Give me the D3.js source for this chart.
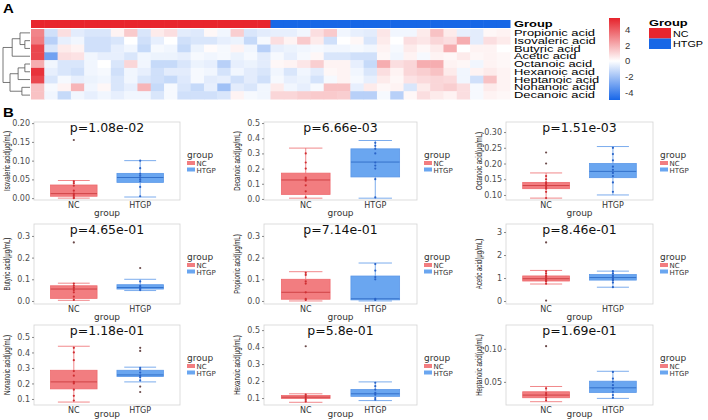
<!DOCTYPE html>
<html>
<head>
<meta charset="utf-8">
<script src="https://cdn.jsdelivr.net/npm/d3@7"></script>
<style>
	body { margin:0; background:#fff; }
	text { font-family:"Liberation Sans", Arial, sans-serif; }
</style>
</head>
<body>
<svg id="chart" width="708" height="420"></svg>
<script>
//--------------------------------------------------------------------------
//  DATA
//--------------------------------------------------------------------------

// heatmap rows, in clustered order
var acids = ["Propionic acid", "Isovaleric acid", "Butyric acid", "Acetic acid",
	"Octanoic acid", "Hexanoic acid", "Heptanoic acid", "Nonanoic acid", "Decanoic acid"];
var groups = ["NC", "HTGP"];
var groupSizes = [18, 18];

// z-scores, one row per acid, 18 NC samples then 18 HTGP samples
var zScores = [
	[ 3.0,-1.0, 0.8,-0.6,-0.8,-0.8, 0.3, 1.3,-0.8, 0.5, 0.8,-0.6,-0.7, 0.2,-0.3, 1.2,-0.8,-0.6,  -0.5,-0.5,-0.3, 0.8, 1.3,-0.3,-0.5,-0.6, 0.6,-0.3,-0.3, 0.5, 1.5, 0.5,-0.5,-0.6, 0.2, 0.3],
	[ 3.2,-1.5,-0.5,-0.3,-1.0,-1.0,-0.8, 0.0,-1.0,-0.5, 0.0,-1.0,-0.8,-0.8,-0.5,-0.4,-1.2,-0.2,   0.8, 0.3, 1.3, 0.5,-1.0, 0.0, 0.2,-0.8, 0.5, 0.0, 0.8, 0.6, 1.0, 0.8, 2.0,-0.6, 0.8, 0.5],
	[ 4.5,-0.8, 0.5, 0.3,-1.0,-1.0,-0.5,-0.3,-1.2,-0.2,-0.3,-1.2,-0.4, 0.1,-0.2, 0.3,-0.3,-1.5,  -0.5,-0.4,-0.3,-0.2,-0.3,-0.3,-0.2,-0.3, 0.3,-0.2, 0.5, 0.2, 0.5, 2.0, 0.0, 0.3, 0.3, 0.0],
	[ 4.5,-3.0, 0.8, 0.7,-0.3,-0.5,-0.5,-0.8,-0.3,-0.4,-0.4,-0.5,-0.2,-0.3,-0.2,-0.4,-0.2,-0.6,  -0.2,-0.5,-0.2, 0.2,-0.8,-0.8,-1.0,-1.0, 0.2,-0.3, 0.3,-0.2, 0.3, 0.2, 0.5, 0.2, 0.3, 0.2],
	[ 2.0,-0.3,-0.8,-0.8,-0.3, 0.0,-0.8, 1.0,-0.3,-1.2,-1.2,-0.8,-0.4,-0.5,-1.5,-0.5,-0.4,-0.6,   0.2, 0.3, 0.6, 1.2, 0.3, 0.3,-0.5,-1.2, 2.0, 0.8, 1.0, 2.0, 2.0, 0.3, 0.2,-0.3, 0.3, 0.2],
	[ 5.0,-0.5,-0.8,-1.0,-0.3,-0.2,-1.0,-0.3,-0.5,-1.0,-0.6,-0.6,-0.2,-0.3,-0.9,-0.3,-0.6,-0.8,  -0.3,-0.8,-0.3,-0.6, 0.2, 0.3,-0.3,-0.8, 0.8, 0.3, 1.0, 1.2, 1.5, 0.5,-0.3, 0.3, 0.5, 0.3],
	[ 4.5,-0.8,-0.2,-0.5,-0.4,-0.3,-0.8,-0.3,-0.8,-1.0,-1.2,-0.7,-0.2,-0.6,-0.5,-1.0,-0.6,-1.0,  -0.2,-0.5,-0.4,-0.9,-0.2, 0.3,-0.2,-0.5, 0.5, 0.2, 0.7, 0.9, 1.0, 0.9,-0.3,-1.0, 1.5, 0.3],
	[ 1.5,-0.2, 0.3, 1.8,-0.3, 0.2,-0.8,-0.5, 1.8,-1.2,-0.2,-0.8,-1.2,-0.5,-2.0,-0.6,-0.8,-0.3,   0.5,-0.3,-0.5,-0.2, 1.5, 1.5,-0.5, 0.5, 0.2, 0.3,-0.8, 0.5, 1.0, 1.2, 0.8,-0.2, 0.5, 0.3],
	[ 1.5,-0.3,-1.2,-0.3,-0.5,-0.3,-0.5,-0.3,-0.3,-0.8,-0.2,-1.0,-1.0,-1.0,-0.8, 0.3,-0.2,-0.3,   1.0, 1.0, 1.2, 1.3, 1.3, 1.2,-1.5,-1.5,-0.2,-1.5, 0.2, 0.8, 0.5, 0.3, 0.8,-0.2, 0.3, 0.2]
];

// row dendrogram, h = merge height (0 leaves .. 1 root)
var dendro = { h:1, children:[
	{ h:0.66, children:[
		{ h:0.37, children:[ { name:"Propionic acid" },
			{ h:0.19, children:[ { name:"Isovaleric acid" }, { name:"Butyric acid" } ] } ] },
		{ name:"Acetic acid" } ] },
	{ h:0.74, children:[
		{ h:0.44, children:[
			{ h:0.19, children:[ { name:"Octanoic acid" }, { name:"Hexanoic acid" } ] },
			{ name:"Heptanoic acid" } ] },
		{ h:0.3, children:[ { name:"Nonanoic acid" }, { name:"Decanoic acid" } ] } ] }
]};

var legendTicks = [4, 2, 0, -2, -4];
var legendRange = [-4.9, 5.4];

// boxplot panels (B)
var panelAcids = ["Isovaleric acid", "Decanoic acid", "Octanoic acid",
	"Butyric acid", "Propionic acid", "Acetic acid",
	"Nonanoic acid", "Hexanoic acid", "Heptanoic acid"];
var pValues = ["1.08e-02", "6.66e-03", "1.51e-03", "4.65e-01", "7.14e-01", "8.46e-01",
	"1.18e-01", "5.8e-01", "1.69e-01"];
var yTickLabels = [
	["0.00", "0.05", "0.10", "0.15", "0.20"],
	["0.0", "0.1", "0.2", "0.3", "0.4", "0.5"],
	["0.10", "0.15", "0.20", "0.25", "0.30"],
	["0.0", "0.1", "0.2", "0.3"],
	["0.0", "0.1", "0.2", "0.3"],
	["0", "1", "2", "3"],
	["0.1", "0.2", "0.3", "0.4", "0.5"],
	["0.1", "0.2", "0.3", "0.4", "0.5"],
	["0.05", "0.10"]
];
var yLimits = [[-0.005, 0.203], [-0.007, 0.507], [0.084, 0.332],
	[-0.014, 0.355], [-0.014, 0.355], [-0.13, 3.35],
	[0.061, 0.577], [0.059, 0.53], [0.015, 0.136]];

// [lower whisker, q1, median, q3, upper whisker]
var ncStats = [
	[0.0, 0.005, 0.012, 0.035, 0.047],
	[0.005, 0.03, 0.125, 0.17, 0.335],
	[0.09, 0.12, 0.13, 0.14, 0.17],
	[0.003, 0.012, 0.055, 0.07, 0.082],
	[0.0, 0.008, 0.04, 0.1, 0.135],
	[0.74, 0.87, 0.97, 1.09, 1.33],
	[0.08, 0.165, 0.21, 0.285, 0.44],
	[0.075, 0.097, 0.105, 0.115, 0.125],
	[0.02, 0.026, 0.03, 0.035, 0.043]
];
var htgpStats = [
	[0.003, 0.042, 0.055, 0.066, 0.1],
	[0.005, 0.145, 0.243, 0.33, 0.385],
	[0.1, 0.155, 0.175, 0.2, 0.254],
	[0.048, 0.055, 0.062, 0.075, 0.1],
	[0.0, 0.005, 0.01, 0.115, 0.175],
	[0.6, 0.91, 1.02, 1.15, 1.3],
	[0.21, 0.245, 0.255, 0.285, 0.305],
	[0.085, 0.11, 0.125, 0.15, 0.195],
	[0.025, 0.034, 0.041, 0.051, 0.066]
];
var ncOutliers = [[0.155], [], [0.2, 0.235], [0.27], [0.295], [2.55, 0.02], [], [0.405], [0.104]];
var htgpOutliers = [[], [], [], [0.152], [], [], [0.43, 0.41, 0.18, 0.145], [], []];
var ncPoints = [
	[0.0, 0.003, 0.008, 0.012, 0.02, 0.033, 0.04, 0.045],
	[0.01, 0.05, 0.09, 0.12, 0.13, 0.14, 0.2, 0.24, 0.3],
	[0.09, 0.11, 0.12, 0.125, 0.13, 0.135, 0.14, 0.15, 0.16],
	[0.005, 0.02, 0.04, 0.05, 0.06, 0.07, 0.08],
	[0.005, 0.01, 0.04, 0.08, 0.09, 0.12, 0.13],
	[0.75, 0.85, 0.9, 0.95, 1.0, 1.05, 1.1, 1.2, 1.3],
	[0.09, 0.12, 0.16, 0.2, 0.21, 0.25, 0.28, 0.35, 0.4, 0.43],
	[0.08, 0.09, 0.1, 0.11, 0.12],
	[0.022, 0.026, 0.03, 0.033, 0.04]
];
var htgpPoints = [
	[0.005, 0.03, 0.045, 0.05, 0.055, 0.06, 0.065, 0.08, 0.1],
	[0.01, 0.13, 0.2, 0.22, 0.24, 0.3, 0.33, 0.35, 0.37],
	[0.11, 0.14, 0.16, 0.17, 0.18, 0.19, 0.21, 0.23, 0.25],
	[0.05, 0.055, 0.06, 0.065, 0.07, 0.09],
	[0.005, 0.01, 0.1, 0.11, 0.14, 0.17],
	[0.6, 0.8, 0.9, 0.95, 1.0, 1.05, 1.1, 1.2, 1.3],
	[0.22, 0.24, 0.25, 0.27, 0.29, 0.3],
	[0.09, 0.1, 0.12, 0.13, 0.15, 0.17, 0.19],
	[0.026, 0.03, 0.035, 0.04, 0.045, 0.05, 0.055, 0.065]
];

//--------------------------------------------------------------------------
//  STYLE
//--------------------------------------------------------------------------

var groupColors = { NC:"#e8252d", HTGP:"#1767e6" }
	, boxFill = { NC:"#f27d80", HTGP:"#6aa6f0" }
	, boxLine = { NC:"#ee6a6d", HTGP:"#5a97e8" }
	, medLine = { NC:"#cc3c40", HTGP:"#2f6cc6" }
	, dotColor = { NC:"#cf2f33", HTGP:"#2a64c8" }
	, labelScale = 1.5;

var svg = d3.select("#chart");

//--------------------------------------------------------------------------
//  A : HEATMAP
//--------------------------------------------------------------------------

function drawHeatmap() {
	var nSamples = d3.sum(groupSizes)
	, sampleGroup = []
	, cells = []
	, x, y, color, g, root, hx;

	groups.forEach(function(gr, gi) {
		for (var k = 0; k < groupSizes[gi]; k++) { sampleGroup.push(gr); }
	});
	zScores.forEach(function(row, r) {
		row.forEach(function(v, c) { cells.push({ acid:acids[r], col:c, v:v }); });
	});

	x = d3.scaleBand().domain(d3.range(nSamples)).range([31, 510]);
	y = d3.scaleBand().domain(acids).range([29, 99]);
	color = d3.scaleLinear().domain([-4.9, 0, 5.4]).range(["#1766e8", "#ffffff", "#e6222b"]);

	svg.append("text")
		.attr("transform", "translate(3,13) scale(1.25,1)")
		.style("font-weight", "bold").style("font-size", "12px").text("A");

	// group annotation bar
	svg.append("g").selectAll("rect")
		.data(sampleGroup)
		.enter().append("rect")
		.attr("x", function(d, i) { return x(i); })
		.attr("y", 20)
		.attr("width", x.bandwidth() + 0.5)
		.attr("height", 8)
		.attr("fill", function(d) { return groupColors[d]; });

	svg.append("g").selectAll("rect")
		.data(cells)
		.enter().append("rect")
		.attr("x", function(d) { return x(d.col); })
		.attr("y", function(d) { return y(d.acid); })
		.attr("width", x.bandwidth() + 0.5)
		.attr("height", y.bandwidth() + 0.5)
		.attr("fill", function(d) { return color(d.v); });

	// row labels
	g = svg.append("g").attr("transform", "translate(514,0) scale(" + labelScale + ",1)");
	g.append("text").attr("x", 0).attr("y", 27)
		.style("font-size", "8.6px").style("font-weight", "bold").text("Group");
	g.selectAll("text.row")
		.data(acids)
		.enter().append("text")
		.attr("class", "row")
		.attr("x", 0)
		.attr("y", function(d) { return y(d) + y.bandwidth() / 2 + 3.1; })
		.style("font-size", "8.6px")
		.text(function(d) { return d; });

	// dendrogram
	root = d3.hierarchy(dendro);
	hx = d3.scaleLinear().domain([0, 1]).range([30, 3]);
	root.eachAfter(function(n) {
		if (!n.children) {
			n.py = y(n.data.name) + y.bandwidth() / 2;
			n.px = hx(0);
		} else {
			n.py = (n.children[0].py + n.children[n.children.length - 1].py) / 2;
			n.px = hx(n.data.h);
		}
	});
	svg.append("g").selectAll("path")
		.data(root.descendants().filter(function(n) { return n.children; }))
		.enter().append("path")
		.attr("fill", "none")
		.attr("stroke", "#555")
		.attr("stroke-width", 0.8)
		.attr("d", function(n) {
			var a = n.children[0], b = n.children[n.children.length - 1];
			return "M" + a.px + "," + a.py + "H" + n.px + "V" + b.py + "H" + b.px;
		});

	// colour legend
	var ly = d3.scaleLinear().domain(legendRange).range([100, 18])
	, defs = svg.append("defs")
	, grad = defs.append("linearGradient").attr("id", "zgrad")
		.attr("x1", 0).attr("y1", 1).attr("x2", 0).attr("y2", 0);
	[-4.9, 0, 5.4].forEach(function(v) {
		grad.append("stop")
			.attr("offset", (v - legendRange[0]) / (legendRange[1] - legendRange[0]))
			.attr("stop-color", color(v));
	});
	svg.append("rect").attr("x", 609).attr("y", 18).attr("width", 11).attr("height", 82)
		.attr("fill", "url(#zgrad)");
	svg.append("g").selectAll("text")
		.data(legendTicks)
		.enter().append("text")
		.attr("x", 625)
		.attr("y", function(d) { return ly(d) + 3.5; })
		.style("font-size", "9.5px")
		.attr("fill", "#333")
		.text(function(d) { return d; });

	// group legend
	var gl = svg.append("g").attr("transform", "translate(649,0)");
	gl.append("text").attr("x", 0).attr("y", 26)
		.attr("transform", "scale(" + labelScale + ",1)")
		.style("font-size", "8.6px").style("font-weight", "bold").text("Group");
	gl.selectAll("rect")
		.data(groups)
		.enter().append("rect")
		.attr("x", 0)
		.attr("y", function(d, i) { return 28 + i * 10.5; })
		.attr("width", 22)
		.attr("height", 10.5)
		.attr("fill", function(d) { return groupColors[d]; });
	gl.selectAll("text.key")
		.data(groups)
		.enter().append("text")
		.attr("class", "key")
		.attr("transform", function(d, i) { return "translate(24," + (36.5 + i * 10.5) + ") scale(1.2,1)"; })
		.style("font-size", "9px")
		.text(function(d) { return d; });
}

//--------------------------------------------------------------------------
//  B : BOXPLOTS
//--------------------------------------------------------------------------

function drawBoxplots() {
	var colX = [[34, 180], [264, 417], [506, 653]]
	, rowY = [[122, 200], [224, 304], [325, 405]];

	svg.append("text")
		.attr("transform", "translate(3,117) scale(1.25,1)")
		.style("font-weight", "bold").style("font-size", "12px").text("B");

	panelAcids.forEach(function(acid, i) {
		var cx = colX[i % 3]
		, ry = rowY[Math.floor(i / 3)]
		, x = d3.scaleLinear().domain([0.4, 2.6]).range(cx)
		, y = d3.scaleLinear().domain(yLimits[i]).range([ry[1], ry[0]])
		, g = svg.append("g")
		, boxW = x(0.7) - x(0)
		, capW = x(0.48) - x(0)
		, sets = [
			{ name:"NC", pos:1, s:ncStats[i], out:ncOutliers[i], pts:ncPoints[i] },
			{ name:"HTGP", pos:2, s:htgpStats[i], out:htgpOutliers[i], pts:htgpPoints[i] }
		]
		, ticks = yTickLabels[i];

		g.append("rect")
			.attr("x", cx[0]).attr("y", ry[0])
			.attr("width", cx[1] - cx[0]).attr("height", ry[1] - ry[0])
			.attr("fill", "#fff").attr("stroke", "#d4d4d4").attr("stroke-width", 0.8);

		// y axis
		var ax = g.append("g")
			.attr("transform", "translate(" + cx[0] + ",0)")
			.call(d3.axisLeft(y)
				.tickValues(ticks.map(Number))
				.tickFormat(function(d, j) { return ticks[j]; })
				.tickSize(2).tickPadding(2));
		ax.select(".domain").remove();
		ax.selectAll("line").attr("stroke", "#888");
		ax.selectAll("text").style("font-family", "DejaVu Sans").style("font-size", "8px").attr("fill", "#4d4d4d");

		g.append("text")
			.attr("transform", "translate(" + (cx[0] - 24) + "," + ((ry[0] + ry[1]) / 2) + ") rotate(-90) scale(0.68,1)")
			.attr("text-anchor", "middle")
			.style("font-size", "9px").attr("fill", "#222")
			.text(acid + "(\u03bcg/mL)");

		// boxes
		sets.forEach(function(d) {
			var c = x(d.pos), s = d.s;
			g.append("line").attr("x1", c).attr("x2", c).attr("y1", y(s[0])).attr("y2", y(s[4]))
				.attr("stroke", boxLine[d.name]).attr("stroke-width", 0.8);
			[s[0], s[4]].forEach(function(v) {
				g.append("line").attr("x1", c - capW / 2).attr("x2", c + capW / 2)
					.attr("y1", y(v)).attr("y2", y(v))
					.attr("stroke", boxLine[d.name]).attr("stroke-width", 0.8);
			});
			g.append("rect")
				.attr("x", c - boxW / 2).attr("width", boxW)
				.attr("y", y(s[3])).attr("height", y(s[1]) - y(s[3]))
				.attr("fill", boxFill[d.name]).attr("stroke", boxLine[d.name]).attr("stroke-width", 0.8);
			g.append("line").attr("x1", c - boxW / 2).attr("x2", c + boxW / 2)
				.attr("y1", y(s[2])).attr("y2", y(s[2]))
				.attr("stroke", medLine[d.name]).attr("stroke-width", 0.9);
			g.selectAll(null)
				.data(d.pts)
				.enter().append("circle")
				.attr("cx", c).attr("cy", function(v) { return y(v); })
				.attr("r", 1.1).attr("fill", dotColor[d.name]);
			g.selectAll(null)
				.data(d.out)
				.enter().append("circle")
				.attr("cx", c).attr("cy", function(v) { return y(v); })
				.attr("r", 1.1).attr("fill", "#6b4a4a");
			g.append("text")
				.attr("x", c).attr("y", ry[1] + 8)
				.attr("text-anchor", "middle")
				.style("font-family", "DejaVu Sans").style("font-size", "8px").attr("fill", "#333")
				.text(d.name);
		});

		g.append("text")
			.attr("x", (cx[0] + cx[1]) / 2).attr("y", Math.min(ry[1] + 15.5, 417))
			.attr("text-anchor", "middle")
			.style("font-family", "DejaVu Sans").style("font-size", "9px").attr("fill", "#333")
			.text("group");

		g.append("text")
			.attr("x", (cx[0] + cx[1]) / 2).attr("y", ry[0] + 10)
			.attr("text-anchor", "middle")
			.style("font-family", "DejaVu Sans").style("font-size", "12.5px").attr("fill", "#111")
			.text("p=" + pValues[i]);

		// legend
		var lg = g.append("g").attr("transform", "translate(" + (cx[1] + 7) + "," + (ry[0] + 36) + ")");
		lg.append("text").attr("x", 0).attr("y", 0)
			.style("font-family", "DejaVu Sans").style("font-size", "9px").attr("fill", "#333").text("group");
		lg.selectAll("rect")
			.data(groups)
			.enter().append("rect")
			.attr("x", 0).attr("y", function(d, j) { return 3 + j * 6.5; })
			.attr("width", 8).attr("height", 4)
			.attr("fill", function(d) { return boxFill[d]; });
		lg.selectAll("text.k")
			.data(groups)
			.enter().append("text")
			.attr("class", "k")
			.attr("x", 9.5).attr("y", function(d, j) { return 8.2 + j * 6.5; })
			.style("font-family", "DejaVu Sans").style("font-size", "7px").attr("fill", "#333")
			.text(function(d) { return d; });
	});
}

drawHeatmap();
drawBoxplots();
</script>
</body>
</html>
